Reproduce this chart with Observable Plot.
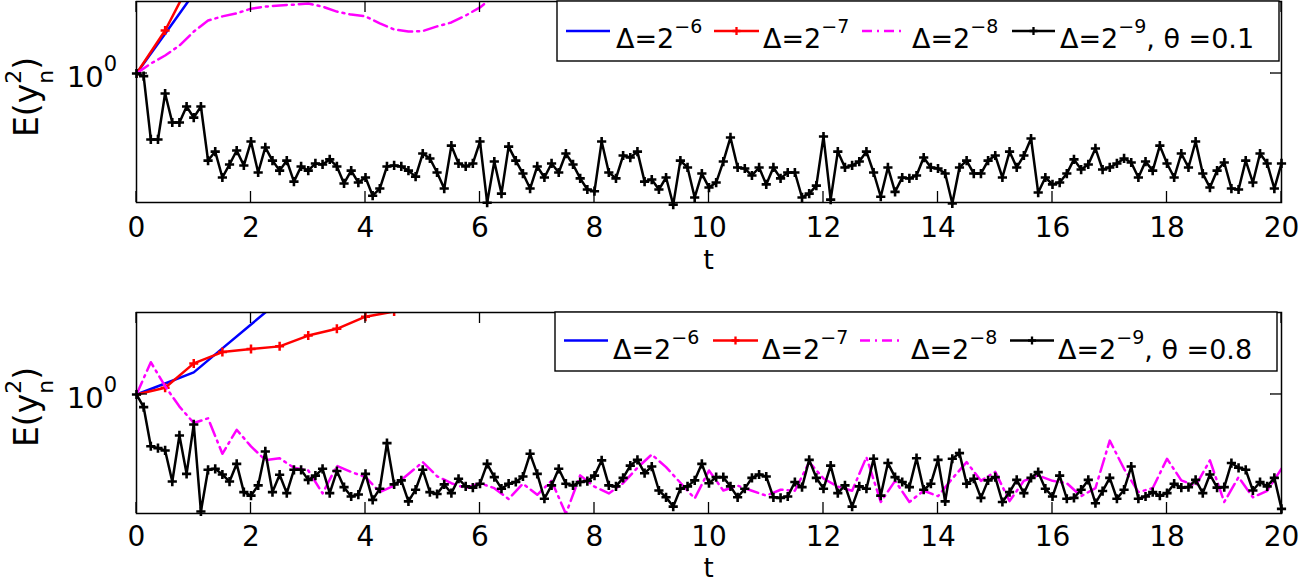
<!DOCTYPE html>
<html><head><meta charset="utf-8">
<script src="https://cdn.jsdelivr.net/npm/d3@7"></script>
<script src="https://cdn.jsdelivr.net/npm/@observablehq/plot@0.6"></script>
<style>
html,body{margin:0;padding:0;background:#fff;}
#wrap{position:relative;width:1299px;height:583px;overflow:hidden;background:#fff;}
#wrap svg{position:absolute;left:0;}
</style></head><body><div id="wrap"></div>
<script>
// ---------- data ----------
const xTicks = [0, 2, 4, 6, 8, 10, 12, 14, 16, 18, 20];
const yTicks = [1];
const stepBlue = 0.5, stepRed = 0.5, stepMagenta = 0.25, stepBlack = 0.125;

// panel 1 (theta = 0.1)
const theta1 = "0.1";
const blue1 = [1, 1.58, 2.51, 4.0, 6.3];
const red1 = [1, 1.64, 3.1, 6, 12];
const magenta1 = [1.0, 1.122, 1.23, 1.38, 1.62, 1.84, 1.93, 2.0, 2.11, 2.16, 2.19, 2.21, 2.24, 2.16, 2.04, 1.97, 1.93, 1.78, 1.66, 1.62, 1.63, 1.72, 1.80, 1.95, 2.14, 2.45, 2.8, 3.3, 4.0];
const black1 = [
  1.0, 0.97, 0.468, 0.468, 0.794, 0.569, 0.569, 0.684, 0.602, 0.684, 0.367,
  0.407, 0.302, 0.351, 0.412, 0.347, 0.457, 0.320, 0.427, 0.367, 0.327,
  0.367, 0.288, 0.343, 0.327, 0.355, 0.351, 0.372, 0.343, 0.282, 0.327,
  0.285, 0.302, 0.245, 0.266, 0.343, 0.347, 0.343, 0.327, 0.305, 0.398,
  0.376, 0.320, 0.266, 0.436, 0.355, 0.343, 0.355, 0.457, 0.226, 0.363,
  0.251, 0.431, 0.367,
  0.316, 0.266, 0.343, 0.302, 0.355, 0.320, 0.398, 0.351, 0.299, 0.263, 0.258,
  0.457, 0.320, 0.299, 0.389, 0.380, 0.407, 0.288, 0.295,
  0.263, 0.302, 0.221, 0.367, 0.339, 0.240, 0.316, 0.269,
  0.285, 0.363, 0.479, 0.339, 0.335, 0.309, 0.339, 0.279,
  0.339, 0.299, 0.320, 0.320, 0.240, 0.251, 0.275, 0.484,
  0.234, 0.407, 0.339, 0.347, 0.363, 0.407, 0.320, 0.242,
  0.339, 0.256, 0.302, 0.299, 0.309, 0.380, 0.339, 0.335,
  0.316, 0.224, 0.339, 0.367, 0.316, 0.316, 0.367, 0.389,
  0.302, 0.407, 0.339, 0.389, 0.473, 0.254, 0.302, 0.279,
  0.285, 0.316, 0.372, 0.331, 0.351, 0.422, 0.331, 0.339,
  0.355, 0.376, 0.359, 0.302, 0.363, 0.327, 0.436, 0.355,
  0.302, 0.398, 0.339, 0.457, 0.316, 0.269, 0.327, 0.359,
  0.266, 0.263, 0.367, 0.285, 0.398, 0.355, 0.266, 0.355
];

// panel 2 (theta = 0.8)
const theta2 = "0.8";
const blue2 = [1, 1.135, 1.29, 1.70, 2.24, 2.95, 3.9];
const red2 = [1, 1.08, 1.43, 1.63, 1.69, 1.74, 1.97, 2.13, 2.45, 2.6, 3.2, 4.0];
const magenta2 = [
  1.0, 1.45, 1.1, 0.87, 0.72, 0.76, 0.505, 0.666, 0.55, 0.47, 0.48, 0.43, 0.417,
  0.32, 0.44, 0.41, 0.386, 0.325, 0.35, 0.40, 0.459, 0.39, 0.36, 0.34, 0.36,
  0.34, 0.30, 0.358, 0.315, 0.37, 0.253, 0.394, 0.346, 0.32, 0.36, 0.43, 0.501,
  0.433, 0.362, 0.302, 0.417, 0.331, 0.35, 0.33, 0.312, 0.334, 0.33, 0.459, 0.38,
  0.346, 0.33, 0.486, 0.29, 0.37, 0.29, 0.33, 0.31, 0.38, 0.459, 0.37, 0.41,
  0.293, 0.37, 0.394, 0.37, 0.36, 0.31, 0.34, 0.588, 0.425, 0.325, 0.34, 0.477,
  0.372, 0.35, 0.468, 0.29, 0.386, 0.306, 0.33, 0.425
];
const black2 = [
  1.0, 0.864, 0.551, 0.539, 0.525, 0.367, 0.624, 0.401, 0.708, 0.260, 0.420,
  0.425, 0.398, 0.367, 0.450, 0.325, 0.312, 0.351, 0.519, 0.325, 0.397,
  0.321, 0.420, 0.420, 0.374, 0.393, 0.425, 0.321, 0.414, 0.344, 0.309,
  0.316, 0.401, 0.297, 0.338, 0.571, 0.355, 0.372, 0.292, 0.334, 0.420,
  0.325, 0.318, 0.355, 0.321, 0.379, 0.347, 0.342, 0.358, 0.450, 0.386,
  0.338, 0.358, 0.365,
  0.389, 0.505, 0.401, 0.301, 0.351, 0.425, 0.358, 0.351, 0.365, 0.369, 0.393,
  0.468, 0.351, 0.347, 0.383, 0.441, 0.471, 0.404, 0.436,
  0.331, 0.306, 0.275, 0.338, 0.347, 0.372, 0.450, 0.360,
  0.386, 0.386, 0.347, 0.306, 0.338, 0.383, 0.398, 0.389,
  0.306, 0.304, 0.309, 0.365, 0.344, 0.471, 0.383, 0.338,
  0.441, 0.321, 0.351, 0.275, 0.347, 0.338, 0.477, 0.312,
  0.454, 0.386, 0.365, 0.344, 0.480, 0.334, 0.358, 0.471,
  0.292, 0.477, 0.509, 0.358, 0.379, 0.304, 0.372, 0.386,
  0.290, 0.325, 0.374, 0.321, 0.383, 0.409, 0.338, 0.309,
  0.393, 0.301, 0.304, 0.334, 0.374, 0.286, 0.329, 0.383,
  0.301, 0.334, 0.436, 0.301, 0.309, 0.325, 0.312, 0.321,
  0.358, 0.342, 0.344, 0.374, 0.321, 0.398, 0.342, 0.344,
  0.454, 0.430, 0.420, 0.331, 0.365, 0.347, 0.383, 0.268
];

const yDomain1 = [0.2265, 2.291];
const yDomain2 = [0.254, 2.57];
const legendLabels = ["\u0394=2", "\u0394=2", "\u0394=2", "\u0394=2"];
const legendExps = ["\u22126", "\u22127", "\u22128", "\u22129"];

// ---------- drawing ----------
const FONT = "DejaVu Sans";
const series = (vals, step) => vals.map((v, i) => ({t: i * step, v}));
const plusSym = {draw(ctx, size) { const r = Math.sqrt(size / Math.PI); ctx.moveTo(-r, 0); ctx.lineTo(r, 0); ctx.moveTo(0, -r); ctx.lineTo(0, r); }};
const MAG_DASH = "14,5,2,5";

function panel({blue, red, magenta, black, yDomain, theta, H, top, legend, ylabY, tickPad, tY, tSize}) {
  const chart = Plot.plot({
    width: 1299, height: H,
    marginLeft: 136, marginRight: 18, marginTop: 1, marginBottom: H - 202,
    style: {fontFamily: FONT, fontSize: "28px", background: "white", color: "black", overflow: "visible"},
    x: {domain: [0, 20], ticks: xTicks, tickSize: 0, tickPadding: tickPad, label: null, tickFormat: d => String(d)},
    y: {type: "log", domain: yDomain, axis: null},
    marks: [
      Plot.line(series(blue, stepBlue), {x: "t", y: "v", stroke: "#0000ff", strokeWidth: 2.5, clip: true}),
      Plot.line(series(red, stepRed), {x: "t", y: "v", stroke: "#ff0000", strokeWidth: 2.5, clip: true}),
      Plot.dot(series(red, stepRed), {x: "t", y: "v", symbol: plusSym, r: 4.5, stroke: "#ff0000", strokeWidth: 2.5, fill: "none", clip: true}),
      Plot.line(series(magenta, stepMagenta), {x: "t", y: "v", stroke: "#ff00ff", strokeWidth: 2.5, strokeDasharray: MAG_DASH, clip: true}),
      Plot.line(series(black, stepBlack), {x: "t", y: "v", stroke: "black", strokeWidth: 2.5}),
      Plot.dot(series(black, stepBlack), {x: "t", y: "v", symbol: plusSym, r: 4.6, stroke: "black", strokeWidth: 2.6, fill: "none"}),
      Plot.frame({stroke: "black", strokeWidth: 1.5})
    ]
  });
  chart.style.top = top + "px";
  document.getElementById("wrap").appendChild(chart);
  const sx = chart.scale("x"), sy = chart.scale("y");
  const svg = d3.select(chart);
  const x0 = 136, x1 = 1281, y0 = 1, y1 = 202, tl = 11;
  const g = svg.append("g").attr("stroke", "black").attr("stroke-width", 1.3);
  for (const t of xTicks) {
    const X = sx.apply(t);
    g.append("line").attr("x1", X).attr("x2", X).attr("y1", y1).attr("y2", y1 - tl);
    g.append("line").attr("x1", X).attr("x2", X).attr("y1", y0).attr("y2", y0 + tl);
  }
  for (const v of yTicks) {
    const Y = sy.apply(v);
    g.append("line").attr("x1", x0).attr("x2", x0 + tl).attr("y1", Y).attr("y2", Y);
    g.append("line").attr("x1", x1).attr("x2", x1 - tl).attr("y1", Y).attr("y2", Y);
    const tx = svg.append("text").attr("x", 117).attr("y", Y + 14).attr("text-anchor", "end")
      .attr("font-family", FONT).attr("font-size", 29).attr("fill", "black").text("10");
    tx.append("tspan").attr("dy", -16).attr("font-size", 21).text(String(Math.round(Math.log10(v))));
  }
  // x label
  svg.append("text").attr("x", (x0 + x1) / 2).attr("y", tY).attr("text-anchor", "middle")
    .attr("font-family", FONT).attr("font-size", tSize).attr("fill", "black").text("t");
  // y label
  const yl = svg.append("text").attr("transform", `translate(38,${ylabY}) rotate(-90)`).attr("text-anchor", "middle")
    .attr("font-family", FONT).attr("font-size", 33).attr("fill", "black");
  yl.append("tspan").text("E(y");
  yl.append("tspan").attr("dy", -17).attr("font-size", 22).text("2");
  yl.append("tspan").attr("dx", -14).attr("dy", 32).attr("font-size", 22).text("n");
  yl.append("tspan").attr("dy", -15).text(")");
  // legend
  const L = svg.append("g");
  L.append("rect").attr("x", legend.x).attr("y", legend.y).attr("width", legend.w).attr("height", legend.h)
    .attr("fill", "white").attr("stroke", "black").attr("stroke-width", 1.4);
  const ly = legend.y + legend.line, ty = legend.y + legend.base;
  const cols = ["#0000ff", "#ff0000", "#ff00ff", "black"];
  legend.items.forEach((it, i) => {
    L.append("line").attr("x1", it[0]).attr("x2", it[1]).attr("y1", ly).attr("y2", ly)
      .attr("stroke", cols[i]).attr("stroke-width", 2.5).attr("stroke-dasharray", i === 2 ? "10,5,2,5" : null);
    if (i === 1 || i === 3) {
      const cx = (it[0] + it[1]) / 2;
      L.append("path").attr("d", `M${cx - 4},${ly}H${cx + 4}M${cx},${ly - 4}V${ly + 4}`)
        .attr("stroke", cols[i]).attr("stroke-width", 2.3).attr("fill", "none");
    }
    const t = L.append("text").attr("x", it[2]).attr("y", ty).attr("text-anchor", "start")
      .attr("font-family", FONT).attr("font-size", 27).attr("fill", "black");
    t.append("tspan").text(legendLabels[i]);
    t.append("tspan").attr("dy", -15).attr("font-size", 19).text(legendExps[i]);
    if (i === 3) t.append("tspan").attr("dy", 15).text(", \u03b8 =" + theta);
  });
  return chart;
}

panel({blue: blue1, red: red1, magenta: magenta1, black: black1, yDomain: yDomain1, theta: theta1, H: 300, top: 0, ylabY: 97,
  tickPad: 15, tY: 269, tSize: 27,
  legend: {x: 557, y: 1, w: 722, h: 60, line: 30, base: 47, items: [[566, 610, 616], [714, 759, 763], [862, 905, 912], [1012, 1055, 1060]]}});
panel({blue: blue2, red: red2, magenta: magenta2, black: black2, yDomain: yDomain2, theta: theta2, H: 272, top: 311, ylabY: 96,
  tickPad: 13, tY: 265.5, tSize: 26,
  legend: {x: 555, y: 1, w: 722, h: 59, line: 28.5, base: 46.5, items: [[564, 608, 613], [713, 758, 762], [860, 903, 911], [1010, 1054, 1058]]}});
</script></body></html>
